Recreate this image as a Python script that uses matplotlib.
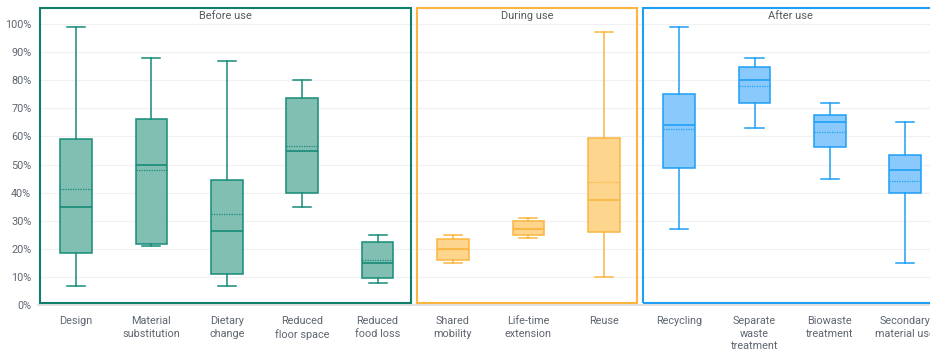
import matplotlib
matplotlib.use("Agg")
import matplotlib.pyplot as plt
from matplotlib.patches import Rectangle
from matplotlib.ticker import FuncFormatter

plt.rcParams["font.family"] = ["Roboto", "DejaVu Sans"]

categories = [
    "Design", "Material\nsubstitution", "Dietary\nchange", "Reduced\nfloor space",
    "Reduced\nfood loss", "Shared\nmobility", "Life-time\nextension", "Reuse",
    "Recycling", "Separate\nwaste\ntreatment", "Biowaste\ntreatment", "Secondary\nmaterial use",
]
whisker_low = [7, 21, 7, 35, 8, 15, 24, 10, 27, 63, 45, 15]
q1 = [18.5, 21.6, 11, 40, 9.7, 16.2, 24.9, 25.9, 48.8, 72, 56.3, 40]
median = [35, 50, 26.5, 55, 15, 20, 27, 37.5, 64, 80, 65, 48]
mean = [41.5, 48, 32.3, 56.7, 16, 20, 27.3, 43.7, 62.7, 77.8, 61.7, 44.1]
q3 = [59, 66.3, 44.4, 73.8, 22.4, 23.7, 29.9, 59.6, 75, 84.6, 67.5, 53.5]
whisker_high = [99, 88, 87, 80, 25, 25, 31, 97, 99, 88, 72, 65]

groups = ["Before use", "During use", "After use"]
group_members = [range(0, 5), range(5, 8), range(8, 12)]
group_edge = ["#168b78", "#fbb540", "#1e9ff5"]
group_frame = ["#0f7e6b", "#fbb540", "#1e9ff5"]
group_fill = ["#82bfb3", "#fdd58c", "#89c9fb"]

fig = plt.figure(figsize=(9.3, 3.56), dpi=100)
ax = fig.add_axes([0.0412, 0.1427, 0.9728, 0.853])

for name, members, edge, frame, fill in zip(groups, group_members, group_edge, group_frame, group_fill):
    stats = [
        {"whislo": whisker_low[i], "q1": q1[i], "med": median[i], "mean": mean[i],
         "q3": q3[i], "whishi": whisker_high[i], "fliers": []}
        for i in members
    ]
    ax.bxp(
        stats,
        positions=list(members),
        widths=0.42,
        patch_artist=True,
        showmeans=True,
        meanline=True,
        boxprops=dict(facecolor=fill, edgecolor=edge, linewidth=1.1),
        medianprops=dict(color=edge, linewidth=1.2),
        meanprops=dict(color=edge, linewidth=0.9, linestyle=(0, (1, 1))),
        whiskerprops=dict(color=edge, linewidth=1.1),
        capprops=dict(color=edge, linewidth=1.1),
        capwidths=0.24,
    )
    left = members[0] - 0.48
    right = members[-1] + 0.44
    ax.add_patch(Rectangle((left, 0.8), right - left, 104.9, fill=False,
                           edgecolor=frame, linewidth=1.5, zorder=5, clip_on=False))
    ax.text((left + right) / 2, 102.9, name, ha="center", va="center",
            fontsize=7.9, color="#555a60")

ax.set_xlim(-0.5, 11.5)
ax.set_ylim(0, 108)
ax.set_yticks(range(0, 101, 10))
ax.yaxis.set_major_formatter(FuncFormatter(lambda v, _: f"{v:.0f}%"))
ax.set_xticks(range(len(categories)))
ax.set_xticklabels(categories, linespacing=1.3)
ax.tick_params(axis="both", length=0, labelsize=7.8, labelcolor="#5f6670")
ax.tick_params(axis="x", pad=8)
ax.tick_params(axis="y", pad=5)
ax.grid(axis="y", color="#f1f1f1", linewidth=0.9)
ax.set_axisbelow(True)
for side in ["top", "right", "left"]:
    ax.spines[side].set_visible(False)
ax.spines["bottom"].set_color("#dddddd")
ax.spines["bottom"].set_linewidth(1.2)

fig.savefig("out.png", dpi=100)
